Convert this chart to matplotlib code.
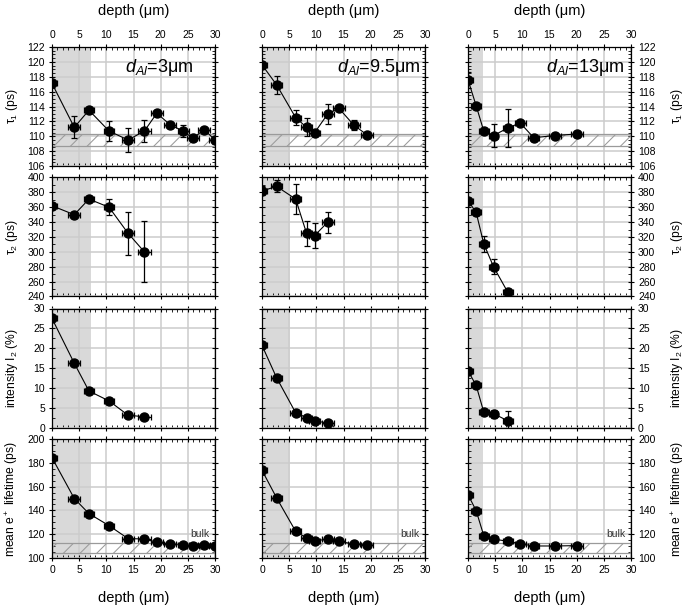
import numpy as np
import matplotlib
matplotlib.use('Agg')
import matplotlib.pyplot as plt
from matplotlib.ticker import MultipleLocator

plt.rcParams['font.family'] = ['Liberation Sans', 'DejaVu Sans']
plt.rcParams['mathtext.fontset'] = 'custom'
plt.rcParams['mathtext.rm'] = 'Liberation Sans'
plt.rcParams['mathtext.it'] = 'Liberation Sans:italic'
plt.rcParams['hatch.linewidth'] = 0.75

# --- data ---
titles = [r'$d_{Al}$=3μm', r'$d_{Al}$=9.5μm', r'$d_{Al}$=13μm']
title_x = [0.865, 0.97, 0.96]
shade_end = [7.2, 5.2, 2.7]

depth = [
    [0, 4.1, 6.8, 10.5, 14.0, 17.0, 19.3, 21.8, 24.2, 25.9, 28.0, 30.0],
    [0, 2.7, 6.2, 8.2, 9.7, 12.1, 14.1, 16.9, 19.3],
    [0, 1.5, 2.9, 4.7, 7.3, 9.6, 12.1, 16.0, 20.0],
]
depth_err = [
    [0.9, 1.1, 0.9, 1.0, 1.1, 1.2, 1.1, 1.1, 1.1, 1.1, 1.1, 1.1],
    [0.9, 1.0, 1.0, 1.0, 1.0, 1.1, 1.1, 1.1, 1.1],
    [0.9, 0.9, 0.9, 0.9, 0.9, 1.0, 1.0, 1.1, 1.1],
]

tau1 = [
    [117.1, 111.2, 113.5, 110.7, 109.5, 110.7, 113.1, 111.5, 110.7, 109.7, 110.9, 109.5],
    [119.6, 116.9, 112.5, 111.2, 110.5, 113.0, 113.8, 111.5, 110.2],
    [117.6, 114.1, 110.7, 110.1, 111.1, 111.8, 109.8, 110.1, 110.3],
]
tau1_err = [
    [0.4, 1.5, 0.3, 1.3, 1.6, 1.5, 0.3, 0.3, 0.8, 0.2, 0.2, 0.2],
    [0.4, 1.2, 1.0, 1.2, 0.3, 1.3, 0.2, 0.7, 0.2],
    [1.1, 0.3, 0.3, 1.6, 2.6, 0.2, 0.4, 0.3, 0.4],
]

tau2 = [
    [362, 350, 371, 360, 325, 300],
    [382, 388, 371, 325, 322, 340],
    [369, 353, 311, 280, 246],
]
tau2_err = [
    [4, 4, 3, 11, 29, 41],
    [6, 8, 20, 17, 17, 14],
    [4, 3, 11, 10, 4],
]

inten = [
    [27.5, 16.2, 9.2, 6.7, 3.1, 2.7],
    [20.7, 12.5, 3.7, 2.5, 1.7, 1.1],
    [14.3, 10.6, 3.9, 3.5, 1.7],
]
inten_err = [
    [0.5, 0.5, 0.5, 0.5, 0.5, 0.5],
    [0.4, 0.4, 0.4, 0.4, 0.4, 0.4],
    [0.4, 0.4, 0.5, 1.0, 2.5],
]

mean_lt = [
    [184.3, 150.0, 137.3, 127.2, 116.3, 116.0, 113.2, 111.8, 110.6, 109.8, 110.9, 109.8],
    [173.7, 150.4, 122.4, 116.8, 114.0, 116.2, 114.0, 111.8, 111.3],
    [153.2, 139.8, 118.8, 116.0, 114.0, 112.0, 110.1, 110.1, 110.4],
]
mean_lt_err = [
    [1] * 12,
    [1] * 9,
    [1] * 9,
]

bulk_tau1 = (108.7, 110.3)
bulk_mean = (104.0, 113.0)

rows = [
    dict(y=tau1, e=tau1_err, lim=(106, 122), major=2, minor=0.5,
         label='τ$_1$ (ps)', band=bulk_tau1),
    dict(y=tau2, e=tau2_err, lim=(240, 400), major=20, minor=10,
         label='τ$_2$ (ps)', band=None),
    dict(y=inten, e=inten_err, lim=(0, 30), major=5, minor=2.5,
         label='intensity I$_2$ (%)', band=None),
    dict(y=mean_lt, e=mean_lt_err, lim=(100, 200), major=20, minor=5,
         label='mean e$^+$ lifetime (ps)', band=bulk_mean),
]

W, H = 685, 610
col_left = [52, 262, 468]
col_w = 163
row_top = [47, 177.5, 308.5, 439]
row_h = 119

fig = plt.figure(figsize=(W / 100, H / 100), dpi=100)

for r, row in enumerate(rows):
    for c in range(3):
        ax = fig.add_axes([col_left[c] / W, 1 - (row_top[r] + row_h) / H,
                           col_w / W, row_h / H])
        ax.set_xlim(0, 30)
        ax.set_ylim(*row['lim'])
        ax.axvspan(0, shade_end[c], color='#d9d9d9', lw=0, zorder=0)
        if row['band'] is not None:
            ax.fill_between([0, 30], row['band'][0], row['band'][1],
                            facecolor='none', edgecolor='#9a9a9a',
                            hatch='//', lw=0.9, zorder=1)
        ax.set_axisbelow(True)
        ax.grid(True, which='major', color='#cccccc', lw=1.1)

        n = len(row['y'][c])
        ax.errorbar(depth[c][:n], row['y'][c], yerr=row['e'][c],
                    xerr=depth_err[c][:n], fmt='o-', color='black',
                    ms=6.5, lw=0.8, elinewidth=0.9, capsize=2.3,
                    capthick=0.9, zorder=3)

        ax.xaxis.set_major_locator(MultipleLocator(5))
        ax.xaxis.set_minor_locator(MultipleLocator(1))
        ax.yaxis.set_major_locator(MultipleLocator(row['major']))
        ax.yaxis.set_minor_locator(MultipleLocator(row['minor']))
        ax.tick_params(which='major', direction='inout', length=5, width=0.8,
                       top=True, bottom=True, left=True, right=True,
                       labelsize=7.5, pad=2.5)
        ax.tick_params(which='minor', direction='in', length=2.2, width=0.6,
                       top=True, bottom=True, left=True, right=True)
        for s in ax.spines.values():
            s.set_linewidth(0.9)

        # x labels only on the outer rows
        ax.tick_params(labeltop=(r == 0), labelbottom=(r == 3))
        if r == 0:
            ax.xaxis.set_label_position('top')
            ax.set_xlabel('depth (μm)', fontsize=10.5)
            ax.xaxis.set_label_coords(0.5, 1.30)
            ax.xaxis.label.set_verticalalignment('center')
            ax.text(title_x[c], 0.83, titles[c], transform=ax.transAxes,
                    ha='right', va='center', fontsize=13)
        elif r == 3:
            ax.set_xlabel('depth (μm)', fontsize=10.5)
            ax.xaxis.set_label_coords(0.5, -0.335)
            ax.xaxis.label.set_verticalalignment('center')
            ax.text(27.3, 120.5, 'bulk', ha='center', va='center',
                    fontsize=7.5, color='#333333', zorder=2)

        # y labels: left column on the left, right column on the right
        if c == 0:
            ax.tick_params(labelleft=True, labelright=False)
            ax.set_ylabel(row['label'], fontsize=8.7)
            ax.yaxis.set_label_coords(-0.245, 0.5)
            ax.yaxis.label.set_verticalalignment('center')
        elif c == 1:
            ax.tick_params(labelleft=False, labelright=False)
        else:
            ax.tick_params(labelleft=False, labelright=True)
            ax.yaxis.set_label_position('right')
            ax.set_ylabel(row['label'], fontsize=8.7, rotation=90)
            ax.yaxis.set_label_coords(1.285, 0.5)
            ax.yaxis.label.set_verticalalignment('center')

fig.savefig('out.png', dpi=100)
